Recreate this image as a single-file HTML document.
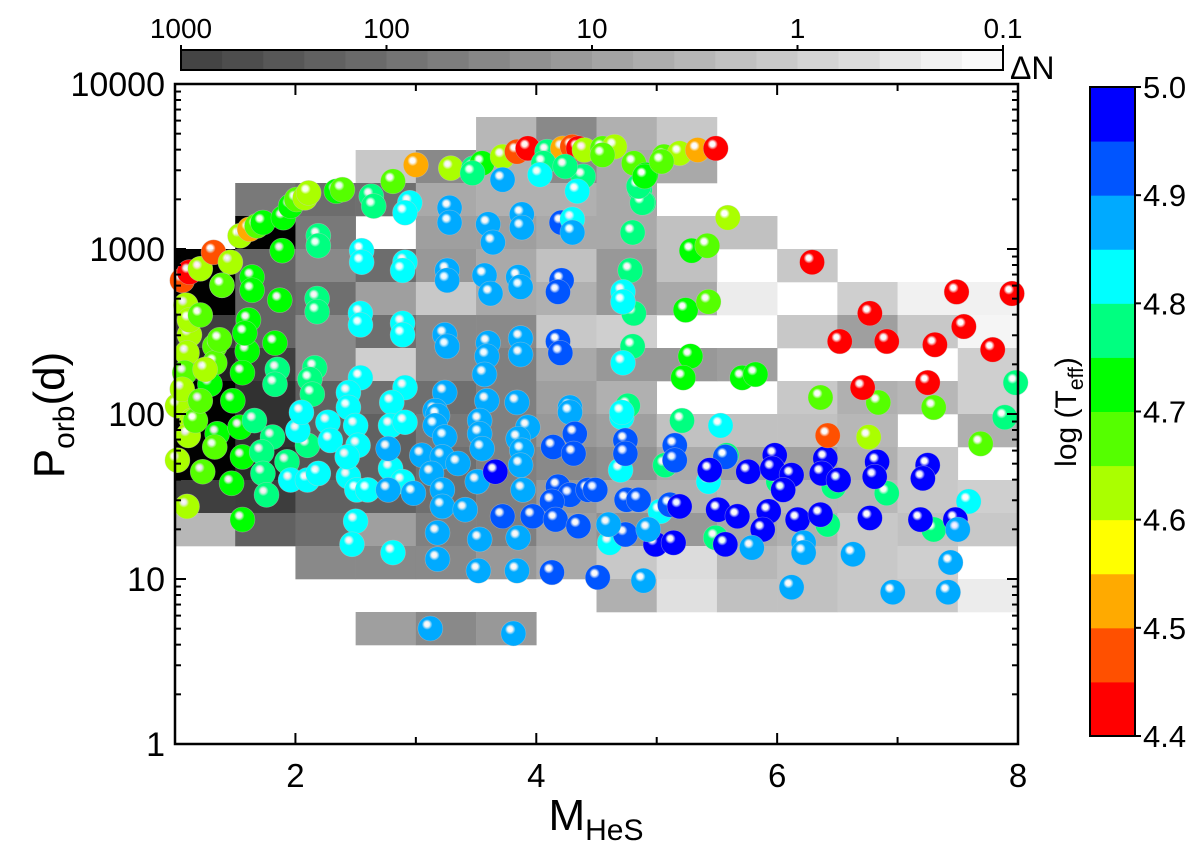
<!DOCTYPE html>
<html><head><meta charset="utf-8"><style>
html,body{margin:0;padding:0;background:#fff;}
svg{display:block;font-family:"Liberation Sans",Arial,sans-serif;}
</style></head><body>
<svg id="chart" width="1200" height="844" viewBox="0 0 1200 844" xmlns="http://www.w3.org/2000/svg">
<defs id="defs"></defs>
<g id="heat"></g>
<g id="pts"></g>
<g id="axes"></g>
<g id="topbar"></g>
<g id="rightbar"></g>
</svg>
<script>
// ---- data ----
const massBins = [1.0,1.5,2.0,2.5,3.0,3.5,4.0,4.5,5.0,5.5,6.0,6.5,7.0,7.5];
const logPBinTops = [3.8,3.6,3.4,3.2,3.0,2.8,2.6,2.4,2.2,2.0,1.8,1.6,1.4,1.2,1.0,0.8];
const n = null;
const logDeltaN = [
[n,n,n,n,n,0.5,1.45,0.65,0.15,n,n,n,n,n],
[n,n,n,0.15,1.45,0.65,1.45,0.8,0.8,n,n,n,n,n],
[n,1.8,2.05,2.0,0.8,0.65,0.65,0.8,n,n,n,n,n,n],
[n,4.3,1.8,n,1.0,1.0,0.8,0.8,0.3,0.3,n,n,n,n],
[4.3,2.2,1.45,2.05,1.15,0.8,0.3,1.15,0.3,n,0.15,n,n,n],
[4.3,2.2,2.0,1.0,0.15,0.8,0.65,1.15,0.8,-0.6,n,0.0,-0.7,-0.7],
[3.0,2.2,1.45,2.0,1.45,1.45,0.15,0.0,n,n,0.15,1.0,0.15,-0.8],
[3.65,3.0,1.45,0.0,1.45,1.65,0.8,1.15,1.15,1.0,n,n,n,0.0],
[4.3,3.3,2.3,2.0,2.0,1.65,1.0,0.65,n,n,0.15,0.65,0.5,0.0],
[4.3,3.3,2.3,2.3,1.8,1.65,1.15,1.0,0.3,0.3,0.3,0.5,n,0.65],
[4.3,3.45,2.55,2.3,2.0,1.65,1.45,1.3,0.8,1.0,1.0,0.65,0.15,n],
[3.0,3.05,2.3,2.3,2.0,1.65,1.15,0.8,0.65,0.5,0.5,0.5,0.15,0.0],
[0.5,2.3,2.05,1.0,1.65,1.65,1.0,1.3,1.15,0.8,0.65,0.15,0.3,0.15],
[n,n,1.45,1.45,1.45,1.15,0.8,0.15,-0.27,0.5,0.3,0.15,0.0,n],
[n,n,n,n,n,n,n,0.65,-0.35,0.3,0.3,0.15,0.15,-0.6],
[n,n,n,1.0,1.45,1.15,n,n,n,n,n,n,n,n]
];
const mass = [1.06,1.12,1.21,1.32,1.46,1.39,1.54,1.62,1.68,1.73,1.90,1.96,2.01,2.08,2.11,2.34,2.39,2.63,2.65,2.81,3.00,3.29,3.48,3.55,3.72,3.84,3.93,4.09,4.22,4.30,4.35,4.40,4.55,4.65,4.81,4.91,5.06,5.19,5.34,5.49,4.86,4.89,4.06,4.03,4.39,4.34,4.24,3.72,3.47,
2.95,2.91,3.28,3.28,3.60,3.64,3.88,3.88,4.21,4.30,4.30,2.19,2.19,1.89,2.55,2.55,2.91,2.89,3.26,3.26,3.57,3.62,3.85,3.87,4.21,4.18,1.39,1.64,1.64,1.87,2.18,2.18,2.54,2.54,2.89,2.89,3.24,3.26,3.60,3.59,3.57,3.87,3.87,4.18,4.20,
1.12,1.10,1.33,1.33,1.60,1.56,1.83,1.85,1.83,2.16,2.12,2.14,1.08,1.29,2.54,2.44,2.44,2.91,2.80,3.24,3.16,3.59,3.84,4.28,1.48,1.02,
1.14,1.11,1.02,1.10,1.17,1.35,1.33,1.23,1.47,1.56,1.56,1.54,1.81,1.72,1.73,1.76,1.93,2.10,1.66,
2.02,1.96,2.10,2.19,2.27,2.29,2.44,2.50,2.52,2.43,2.51,2.60,2.50,2.47,2.81,2.79,2.91,2.79,2.89,2.05,
2.77,2.77,2.98,3.18,3.16,3.24,3.05,3.22,3.35,3.13,3.22,3.22,3.41,3.18,3.18,3.51,3.53,3.53,3.55,3.53,3.52,3.93,3.85,3.88,3.87,3.89,3.85,3.84,4.28,
4.14,4.32,4.31,4.18,4.28,4.13,3.97,4.16,4.35,4.43,3.72,4.13,3.66,3.12,3.81,
4.71,5.53,4.70,5.03,5.43,4.61,7.59,
5.21,5.07,5.58,6.01,6.47,6.91,6.42,7.30,5.49,7.89,
4.74,4.74,5.15,5.15,4.75,4.85,5.11,4.74,4.51,5.57,4.49,
5.44,5.76,5.98,5.96,6.12,6.05,6.40,6.37,6.51,6.83,6.81,7.25,7.21,5.19,5.51,5.67,5.93,5.88,6.17,6.36,6.77,7.19,7.48,4.99,5.14,5.57,
7.50,5.79,6.22,6.22,6.63,7.44,4.89,6.12,6.96,7.42,4.60,4.93,
6.42,6.76,7.69,
4.80,4.78,4.81,4.80,4.76,4.88,4.85,
4.72,4.72,4.72,4.71,
4.90,5.29,5.24,5.28,5.22,5.71,5.82,
5.42,5.43,5.04,4.55,6.36,6.84,7.30,
5.59,
6.29,7.49,7.95,6.77,7.55,6.52,6.91,7.31,7.79,6.71,7.25,
7.98,
1.09,1.12,1.21,1.06,1.21,1.61,1.58,1.37,1.25];
const logPeriod = [2.81,2.86,2.88,2.98,2.92,2.78,3.08,3.12,3.14,3.16,3.19,3.26,3.30,3.31,3.34,3.35,3.36,3.32,3.26,3.41,3.51,3.49,3.49,3.52,3.56,3.59,3.61,3.59,3.61,3.62,3.61,3.60,3.61,3.62,3.52,3.45,3.56,3.58,3.60,3.61,3.36,3.28,3.52,3.45,3.44,3.35,3.50,3.42,3.46,
3.28,3.22,3.25,3.16,3.15,3.04,3.21,3.13,3.16,3.18,3.10,3.08,3.02,2.99,2.99,2.92,2.92,2.87,2.87,2.81,2.84,2.73,2.83,2.77,2.81,2.74,2.78,2.83,2.75,2.69,2.70,2.62,2.61,2.54,2.55,2.48,2.48,2.41,2.43,2.35,2.24,2.46,2.36,2.44,2.37,
2.48,2.37,2.41,2.31,2.38,2.25,2.43,2.27,2.18,2.28,2.21,2.12,2.25,2.18,2.22,2.13,2.04,2.16,2.07,2.13,2.02,2.08,2.07,2.04,2.08,2.05,
1.96,1.87,1.72,1.44,1.96,1.88,1.80,1.65,1.58,1.36,1.74,1.92,1.86,1.77,1.64,1.51,1.71,1.81,1.96,
1.90,1.60,1.60,1.64,1.95,1.84,1.62,1.93,1.81,1.74,1.54,1.54,1.35,1.21,1.16,1.93,1.95,1.67,1.59,2.01,
1.79,1.54,1.52,1.99,1.93,1.86,1.75,1.74,1.70,1.64,1.54,1.44,1.42,1.28,1.12,1.59,1.96,1.88,1.79,1.24,1.05,1.92,1.85,1.78,1.69,1.54,1.25,1.05,2.01,
1.80,1.88,1.76,1.56,1.51,1.47,1.38,1.36,1.32,1.54,1.38,1.04,1.65,0.70,0.67,
1.98,1.93,1.66,1.41,1.59,1.22,1.47,
1.96,1.69,1.75,1.59,1.56,1.52,1.33,1.30,1.25,1.98,
1.84,1.76,1.81,1.72,1.48,1.48,1.45,1.27,1.01,1.74,1.54,
1.66,1.65,1.75,1.67,1.63,1.54,1.73,1.64,1.60,1.71,1.62,1.69,1.61,1.44,1.42,1.38,1.41,1.30,1.36,1.39,1.37,1.36,1.36,1.21,1.22,1.21,
1.30,1.19,1.22,1.16,1.15,1.10,0.99,0.95,0.92,0.92,1.33,1.30,
1.87,1.86,1.82,
3.10,2.87,2.61,2.41,2.05,3.28,3.38,
2.74,2.68,2.31,2.01,
3.44,2.99,2.63,2.35,2.22,2.22,2.24,
3.02,2.68,3.53,3.57,2.10,2.07,2.04,
3.19,
2.92,2.74,2.73,2.61,2.53,2.44,2.44,2.42,2.39,2.16,2.19,
2.19,
2.66,2.57,2.60,2.15,2.08,2.57,2.49,2.45,2.27];
const logTeff = [4.47,4.42,4.62,4.47,4.62,4.72,4.62,4.52,4.67,4.72,4.72,4.72,4.67,4.62,4.62,4.72,4.67,4.77,4.77,4.67,4.52,4.62,4.77,4.72,4.62,4.47,4.42,4.77,4.52,4.47,4.42,4.62,4.67,4.62,4.67,4.72,4.67,4.62,4.52,4.42,4.77,4.77,4.77,4.82,4.77,4.82,4.77,4.87,4.77,
4.82,4.82,4.87,4.87,4.87,4.87,4.87,4.87,4.92,4.82,4.87,4.77,4.77,4.72,4.82,4.82,4.82,4.82,4.87,4.87,4.87,4.87,4.87,4.87,4.92,4.92,4.67,4.72,4.72,4.72,4.77,4.77,4.82,4.82,4.82,4.82,4.87,4.87,4.87,4.87,4.87,4.87,4.87,4.92,4.92,
4.62,4.62,4.67,4.67,4.72,4.72,4.72,4.77,4.77,4.77,4.77,4.77,4.67,4.72,4.82,4.82,4.82,4.82,4.82,4.87,4.87,4.87,4.87,4.87,4.72,4.62,
4.62,4.62,4.62,4.62,4.67,4.72,4.67,4.67,4.72,4.72,4.72,4.72,4.77,4.77,4.77,4.77,4.77,4.77,4.77,
4.82,4.82,4.82,4.82,4.82,4.82,4.82,4.82,4.82,4.82,4.82,4.82,4.82,4.82,4.82,4.82,4.82,4.82,4.82,4.82,
4.87,4.87,4.87,4.87,4.87,4.87,4.87,4.87,4.87,4.87,4.87,4.87,4.87,4.87,4.87,4.87,4.87,4.87,4.87,4.87,4.87,4.87,4.87,4.87,4.87,4.87,4.87,4.87,4.87,
4.92,4.92,4.92,4.92,4.92,4.92,4.92,4.92,4.92,4.92,4.92,4.92,4.97,4.87,4.87,
4.82,4.82,4.82,4.82,4.82,4.82,4.82,
4.77,4.77,4.77,4.77,4.77,4.77,4.77,4.77,4.77,4.77,
4.92,4.92,4.92,4.92,4.92,4.92,4.92,4.92,4.92,4.92,4.92,
4.97,4.97,4.97,4.97,4.97,4.97,4.97,4.97,4.97,4.97,4.97,4.97,4.97,4.97,4.97,4.97,4.97,4.97,4.97,4.97,4.97,4.97,4.97,4.97,4.97,4.97,
4.87,4.87,4.87,4.87,4.87,4.87,4.87,4.87,4.87,4.87,4.87,4.87,
4.47,4.62,4.67,
4.77,4.77,4.77,4.77,4.77,4.77,4.77,
4.82,4.82,4.82,4.82,
4.72,4.72,4.72,4.72,4.72,4.72,4.72,
4.67,4.67,4.67,4.67,4.67,4.67,4.67,
4.62,
4.42,4.42,4.42,4.42,4.42,4.42,4.42,4.42,4.42,4.42,4.42,
4.77,
4.62,4.62,4.67,4.62,4.67,4.72,4.72,4.67,4.62];
const xTicks = [2,4,6,8];
const xTickLabels = ["2","4","6","8"];
const yTicks = [0,1,2,3,4];
const yTickLabels = ["1","10","100","1000","10000"];
const topTickLabels = ["1000","100","10","1","0.1"];
const teffTickLabels = ["4.4","4.5","4.6","4.7","4.8","4.9","5.0"];
const teffColors = ["#ff0000","#ff5000","#ffaa00","#ffff00","#aaff00","#55ff00","#00ff00","#00ff80","#00ffff","#00aaff","#0055ff","#0000ff"];

// ---- scales ----
const X0=175,X1=1018,Y0=744,Y1=84;
const sx = m => X0 + (m-1)/7*(X1-X0);
const sy = lp => Y0 - lp/4*(Y0-Y1);
const grayOf = lv => { let g = Math.round(255-(lv+1)*48); g=Math.max(0,Math.min(255,g)); return `rgb(${g},${g},${g})`; };
const teffIdx = t => Math.max(0,Math.min(11,Math.floor((t-4.4)/0.05)));
const NS="http://www.w3.org/2000/svg";
function mk(tag, attrs, parent){ const e=document.createElementNS(NS,tag); for(const k in attrs) e.setAttribute(k,attrs[k]); parent.appendChild(e); return e; }

const defs=document.getElementById('defs');
teffColors.forEach((c,i)=>{
  const g=mk('radialGradient',{id:'sph'+i,cx:'0.4',cy:'0.38',r:'0.62',fx:'0.36',fy:'0.32'},defs);
  mk('stop',{offset:'0','stop-color':'#ffffff'},g);
  mk('stop',{offset:'0.16','stop-color':'#ffffff','stop-opacity':'0.9'},g);
  mk('stop',{offset:'0.34','stop-color':c},g);
  mk('stop',{offset:'1','stop-color':c},g);
});

const heat=document.getElementById('heat');
logDeltaN.forEach((row,r)=>row.forEach((v,c)=>{
  if(v===null) return;
  const x=sx(massBins[c]), w=sx(massBins[c]+0.5)-x;
  const y=sy(logPBinTops[r]), h=sy(logPBinTops[r]-0.2)-y;
  const el=mk('rect',{x:x,y:y,width:w+0.3,height:h+0.3,fill:grayOf(v)},heat);
  
  
}));

const pts=document.getElementById('pts');
for(let i=0;i<mass.length;i++){
  const el=mk('circle',{cx:sx(mass[i]),cy:sy(logPeriod[i]),r:12.5,fill:`url(#sph${teffIdx(logTeff[i])})`,stroke:'rgba(200,200,200,0.5)','stroke-width':0.6},pts);
  
  
}

const ax=document.getElementById('axes');
mk('rect',{x:X0,y:Y1,width:X1-X0,height:Y0-Y1,fill:'none',stroke:'#000','stroke-width':2.5},ax);
for(let m=1;m<=8;m++){ const L=(m%2===0)?11:7; const x=sx(m);
  mk('line',{x1:x,y1:Y0,x2:x,y2:Y0-L,stroke:'#000','stroke-width':2},ax);
  mk('line',{x1:x,y1:Y1,x2:x,y2:Y1+L,stroke:'#000','stroke-width':2},ax);}
xTicks.forEach((t,i)=>{ const el=mk('text',{x:sx(t),y:787,'font-size':33,'text-anchor':'middle'},ax); el.textContent=xTickLabels[i];
   });
for(let d=0;d<4;d++){ for(let k=1;k<=9;k++){ const y=sy(d+Math.log10(k)); const L=k===1?11:6;
  mk('line',{x1:X0,y1:y,x2:X0+L,y2:y,stroke:'#000','stroke-width':2},ax);
  mk('line',{x1:X1,y1:y,x2:X1-L,y2:y,stroke:'#000','stroke-width':2},ax);}}
yTicks.forEach((t,i)=>{ const el=mk('text',{x:165,y:sy(t)+12,'font-size':34,'text-anchor':'end'},ax); el.textContent=yTickLabels[i];
   });
</script>
<svg style="position:absolute;left:0;top:0" width="1200" height="844" xmlns="http://www.w3.org/2000/svg">
<text x="596" y="830" font-size="44" text-anchor="middle" font-family="Liberation Sans, sans-serif">M<tspan font-size="30" dy="10">HeS</tspan></text>
<text transform="translate(64,415) rotate(-90)" font-size="44" text-anchor="middle" font-family="Liberation Sans, sans-serif">P<tspan font-size="30" dy="10">orb</tspan><tspan dy="-10">(d)</tspan></text>
<text transform="translate(1076,412) rotate(-90)" font-size="30" text-anchor="middle" font-family="Liberation Sans, sans-serif">log (T<tspan font-size="21" dy="7">eff</tspan><tspan dy="-7">)</tspan></text>
<text x="1010" y="79" font-size="32" font-family="Liberation Sans, sans-serif">ΔN</text>
</svg>
<script>
const tb=document.getElementById('topbar');
const TBX0=181,TBX1=1003,TBY=50,TBH=20, nSteps=20;
for(let k=0;k<nSteps;k++){ const lv=3-0.2*k-0.1; const x=TBX0+k*(TBX1-TBX0)/nSteps;
  const el=mk('rect',{x:x,y:TBY,width:(TBX1-TBX0)/nSteps+0.5,height:TBH,fill:grayOf(lv)},tb);
   }
mk('rect',{x:TBX0,y:TBY,width:TBX1-TBX0,height:TBH,fill:'none',stroke:'#000','stroke-width':2},tb);
topTickLabels.forEach((s,i)=>{ const x=TBX0+i*(TBX1-TBX0)/4;
  mk('line',{x1:x,y1:TBY,x2:x,y2:TBY-5,stroke:'#000','stroke-width':2},tb);
  const el=mk('text',{x:x,y:38,'font-size':28,'text-anchor':'middle'},tb); el.textContent=s;
   });
const rb=document.getElementById('rightbar');
const RX=1090,RW=45,RY0=736,RY1=87;
const ry = t => RY0-(t-4.4)/0.6*(RY0-RY1);
teffColors.forEach((c,i)=>{ const t0=4.4+0.05*i;
  const el=mk('rect',{x:RX,y:ry(t0+0.05),width:RW,height:ry(t0)-ry(t0+0.05)+0.5,fill:c},rb);
   });
mk('rect',{x:RX,y:RY1,width:RW,height:RY0-RY1,fill:'none',stroke:'#000','stroke-width':2},rb);
teffTickLabels.forEach((s,i)=>{ const t=4.4+0.1*i, y=ry(t);
  mk('line',{x1:RX+RW,y1:y,x2:RX+RW+6,y2:y,stroke:'#000','stroke-width':2},rb);
  const el=mk('text',{x:1143,y:y+11,'font-size':31},rb); el.textContent=s;
   });
</script>
</body></html>
